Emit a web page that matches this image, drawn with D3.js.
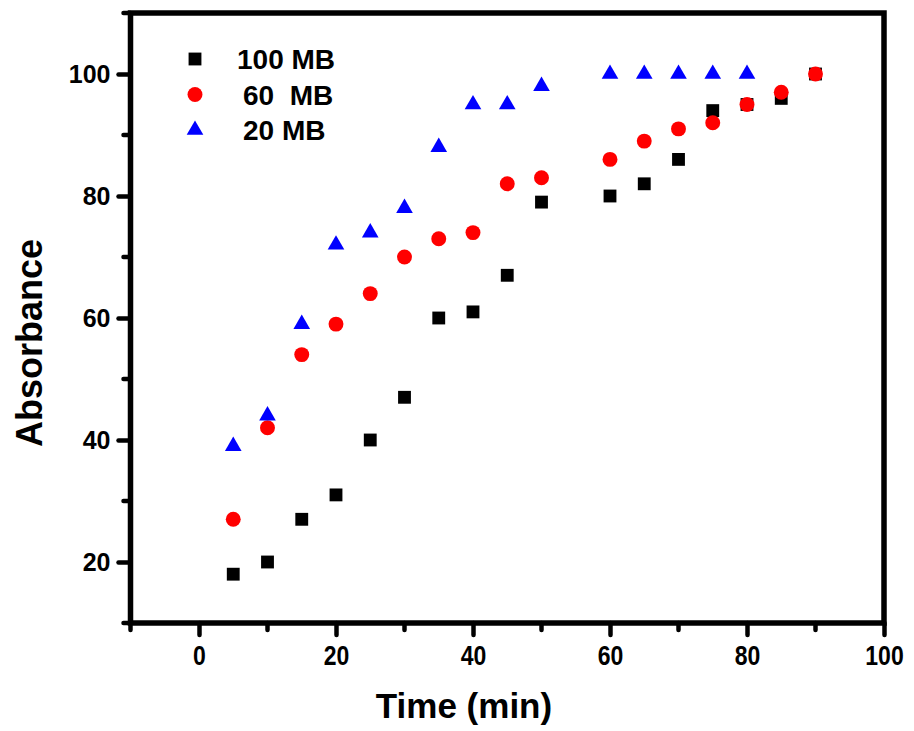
<!DOCTYPE html>
<html>
<head>
<meta charset="utf-8">
<script src="https://cdn.jsdelivr.net/npm/d3@7"></script>
<style>
body { margin: 0; background: #fff; }
text { font-family: "Liberation Sans", Arial, sans-serif; font-weight: bold; }
</style>
</head>
<body>
<div class="chart"></div>
<script>
const times = [5, 10, 15, 20, 25, 30, 35, 40, 45, 50, 60, 65, 70, 75, 80, 85, 90];
const mb100 = [18, 20, 27, 31, 40, 47, 60, 61, 67, 79, 80, 82, 86, 94, 95, 96, 100];
const mb60 = [27, 42, 54, 59, 64, 70, 73, 74, 82, 83, 86, 89, 91, 92, 95, 97, 100];
const mb20 = [39, 44, 59, 72, 74, 78, 88, 95, 95, 98, 100, 100, 100, 100, 100];
const seriesNames = ['100 MB', '60  MB', '20 MB'];
const xTicks = [0, 20, 40, 60, 80, 100];
const yTicks = [20, 40, 60, 80, 100];

const width = 914, height = 731;

const svg = d3.select('.chart').append('svg')
  .attr('width', width)
  .attr('height', height);

let x = d3.scaleLinear().domain([-10, 100]).range([130.5, 884]);
let y = d3.scaleLinear().domain([10, 110]).range([623, 13]);

const series = [
  { name: seriesNames[0], vals: mb100, color: '#000000', sym: d3.symbolSquare, size: 165 },
  { name: seriesNames[1], vals: mb60, color: '#ff0000', sym: d3.symbolCircle, size: 175 },
  { name: seriesNames[2], vals: mb20, color: '#0000ff', sym: d3.symbolTriangle, size: 120 }
];

// points
series.forEach(s => {
  svg.append('g')
    .selectAll('path')
    .data(s.vals.map((v, i) => [times[i], v]))
    .enter()
    .append('path')
    .attr('transform', d => `translate(${x(d[0])},${y(d[1])})`)
    .attr('d', d3.symbol().type(s.sym).size(s.size))
    .attr('fill', s.color)
})

// axes
const xAxis = svg.append('g')
  .attr('transform', `translate(0,${y(10)})`)
  .call(d3.axisBottom(x).tickValues(xTicks).tickSize(12).tickPadding(10).tickFormat(d3.format('d')));

const yAxis = svg.append('g')
  .attr('transform', `translate(${x(-10)},0)`)
  .call(d3.axisLeft(y).tickValues(yTicks).tickSize(12).tickPadding(8).tickFormat(d3.format('d')));

// minor ticks
xAxis.selectAll('.minor')
  .data(d3.range(-10, 100, 20))
  .enter()
  .append('line')
  .attr('class', 'minor')
  .attr('x1', d => x(d)).attr('x2', d => x(d))
  .attr('y1', 0).attr('y2', 7)

yAxis.selectAll('.minor')
  .data(d3.range(10, 111, 20))
  .enter()
  .append('line')
  .attr('class', 'minor')
  .attr('y1', d => y(d)).attr('y2', d => y(d))
  .attr('x1', 0).attr('x2', -7)

svg.selectAll('.domain').remove();
svg.selectAll('.tick line, line.minor')
  .attr('stroke', '#000')
  .attr('stroke-width', 4.5)
  .attr('stroke-linecap', 'round');
svg.selectAll('.tick text')
  .attr('fill', '#000')
  .style('font-size', '25px');
xAxis.selectAll('.tick text').attr('transform', 'scale(0.92,1.1)').attr('y', 20)
  .attr('x', 0);

// frame
svg.append('rect')
  .attr('x', x(-10))
  .attr('y', y(110))
  .attr('width', x(100) - x(-10))
  .attr('height', y(10) - y(110))
  .attr('fill', 'none')
  .attr('stroke', '#000')
  .attr('stroke-width', 5.5);

// legend
const legend = svg.append('g');
series.forEach((s, i) => {
  const ly = 59 + i * 35.5;
  legend.append('path')
    .attr('transform', `translate(195,${ly})`)
    .attr('d', d3.symbol().type(s.sym).size(s.size))
    .attr('fill', s.color);
  legend.append('text')
    .attr('x', i == 0 ? 237 : 243)
    .attr('y', ly + 10)
    .style('font-size', '28px')
    .style('white-space', 'pre')
    .text(s.name);
})

// titles
svg.append('text')
  .attr('x', 464)
  .attr('y', 718)
  .attr('text-anchor', 'middle')
  .style('font-size', '35px')
  .text('Time (min)');

svg.append('text')
  .attr('transform', 'translate(42,343) rotate(-90)')
  .attr('text-anchor', 'middle')
  .style('font-size', '36px')
  .text('Absorbance');
</script>
</body>
</html>
